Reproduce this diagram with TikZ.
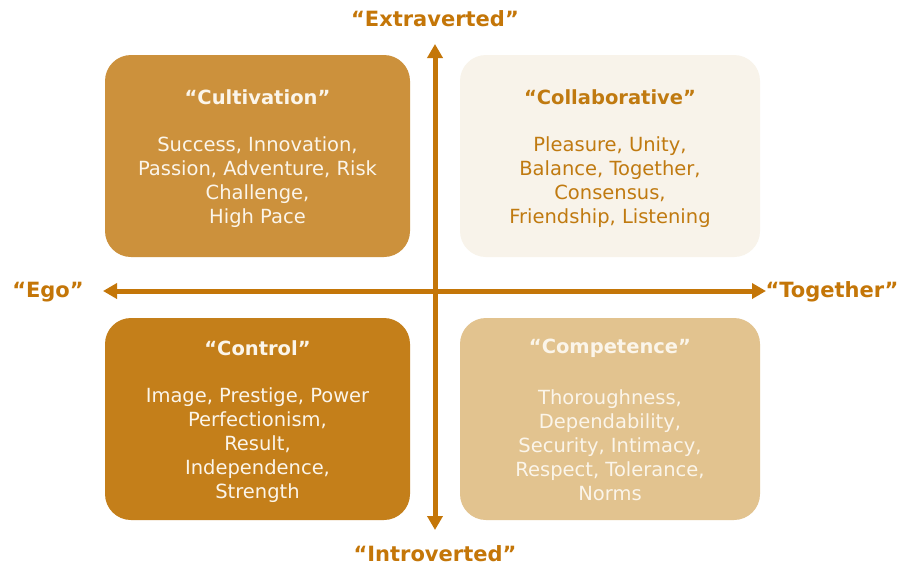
\documentclass[tikz,border=0pt]{standalone}
\usepackage{fontspec}
\setmainfont{DejaVu Sans}
\usetikzlibrary{arrows.meta}
\definecolor{axis}{HTML}{C47608}
\definecolor{cultc}{HTML}{CC913C}
\definecolor{collc}{HTML}{F8F3EA}
\definecolor{contc}{HTML}{C47F1A}
\definecolor{compc}{HTML}{E2C38F}
\definecolor{txtc}{HTML}{C07A10}
\definecolor{lightt}{HTML}{FBF5EA}
\tikzset{
  quad/.style={rounded corners=26pt, draw=none},
  boxtext/.style={align=center, font=\fontsize{19.5}{24}\selectfont, inner sep=0pt},
  boxtitle/.style={align=center, font=\fontsize{19.5}{24}\selectfont\bfseries, inner sep=0pt},
  axislabel/.style={font=\fontsize{21}{24}\selectfont\bfseries, text=axis, inner sep=0pt},
  axisarrow/.style={draw=axis, line width=5pt, {Triangle[width=15pt,length=14pt]}-{Triangle[width=15pt,length=14pt]}}
}
\begin{document}
\begin{tikzpicture}[x=1pt,y=-1pt]
\useasboundingbox (0,0) rectangle (922,571);
\fill[white] (0,0) rectangle (922,571);
% quadrant boxes
\path[quad, fill=cultc] (105,55) rectangle (410,257);
\path[quad, fill=collc] (460,55) rectangle (760,257);
\path[quad, fill=contc] (105,318) rectangle (410,520);
\path[quad, fill=compc] (460,318) rectangle (760,520);
% axes
\coordinate (top) at (435,44);
\coordinate (bot) at (435,530);
\coordinate (lft) at (103,291);
\coordinate (rgt) at (766,291);
\draw[axisarrow] (bot) -- (top);
\draw[axisarrow] (lft) -- (rgt);
% axis labels
\node[axislabel] (extra) at (435,19) {“Extraverted”};
\node[axislabel] (intro) at (435,554) {“Introverted”};
\node[axislabel] (ego) at (48,292) {“Ego”};
\node[axislabel] (tog) at (832,292) {“Together”};
% texts
\node[boxtitle, text=lightt] (cultT) at (257.5,97) {“Cultivation”};
\node[boxtext, text=lightt] (cult) at (257.5,182)
  {Success, Innovation,\\Passion, Adventure, Risk\\Challenge,\\High Pace};
\node[boxtitle, text=txtc] (collT) at (610,97) {“Collaborative”};
\node[boxtext, text=txtc] (coll) at (610,182)
  {Pleasure, Unity,\\Balance, Together,\\Consensus,\\Friendship, Listening};
\node[boxtitle, text=lightt] (contT) at (257.5,348) {“Control”};
\node[boxtext, text=lightt] (cont) at (257.5,445)
  {Image, Prestige, Power\\Perfectionism,\\Result,\\Independence,\\Strength};
\node[boxtitle, text=lightt] (compT) at (610,348) {“Competence”};
\node[boxtext, text=lightt] (comp) at (610,445)
  {Thoroughness,\\Dependability,\\Security, Intimacy,\\Respect, Tolerance,\\Norms};
\end{tikzpicture}
\end{document}
